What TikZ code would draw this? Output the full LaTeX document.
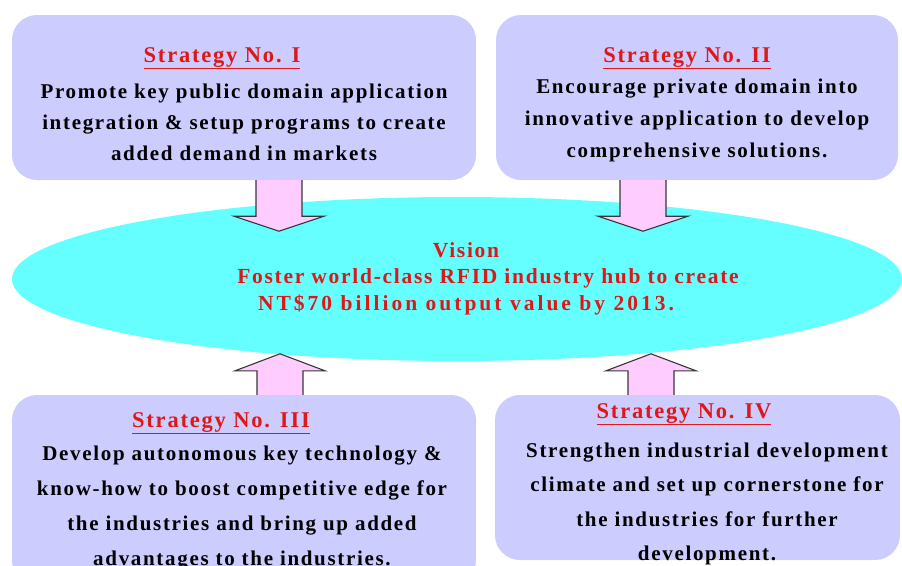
\documentclass[tikz,border=0pt]{standalone}
\usepackage{fontspec}
\setmainfont{Liberation Serif}
\newfontfamily\fontlarga{Liberation Serif}[LetterSpace=8]
\usetikzlibrary{shapes.geometric}
\definecolor{lavanda}{RGB}{204,204,255}
\definecolor{ciano}{RGB}{102,255,255}
\definecolor{rosa}{RGB}{255,204,255}
\definecolor{rosso}{RGB}{222,24,24}
\definecolor{bordo}{RGB}{55,55,55}

\begin{document}
\begin{tikzpicture}[x=1pt,y=-1pt,
  riquadro/.style={rectangle,rounded corners=25pt,fill=lavanda,inner sep=0pt},
  titolo/.style={anchor=base,text=rosso,font=\fontlarga\bfseries\fontsize{22.5}{26}\selectfont},
  testo/.style={align=center,inner sep=0pt,font=\fontlarga\bfseries\fontsize{21}{#1}\selectfont},
  freccia/.style={fill=rosa,draw=bordo,line width=1.1pt,line join=miter}]

\def\frecciagiu{-- ++(0,36) -- ++(-22,0) -- ++(45,15) -- ++(45,-15) -- ++(-22,0) -- ++(0,-36)}
\def\frecciasu{-- ++(0,-24) -- ++(-22,0) -- ++(45,-17) -- ++(45,17) -- ++(-22,0) -- ++(0,24)}

\useasboundingbox (0,0) rectangle (902,565);
\clip (0,0) rectangle (902,565);

%visione
\node[ellipse,fill=ciano,inner sep=0pt,minimum width=890pt,minimum height=164pt] (vis) at (457,279) {};
\node[testo=26.5,text=rosso,font=\fontlarga\bfseries\fontsize{21.5}{26.5}\selectfont] (vtesto) at (466,278.5)
  {Vision\\\hspace*{44pt}Foster world-class RFID industry hub to create\\
   \addfontfeatures{LetterSpace=14}NT\$70 billion output value by 2013.};

%strategie
\node[riquadro,minimum width=464pt,minimum height=165pt] (s1) at (244,97.5) {};
\node[riquadro,minimum width=402pt,minimum height=165pt] (s2) at (697,97.5) {};
\node[riquadro,minimum width=464pt,minimum height=190pt] (s3) at (244,490) {};
\node[riquadro,minimum width=405pt,minimum height=165pt] (s4) at (697.5,477.5) {};

%frecce
\draw[freccia] ([xshift=12pt]s1.south) \frecciagiu;
\draw[freccia] ([xshift=-77pt]s2.south) \frecciagiu;
\draw[freccia] ([xshift=13pt]s3.north) \frecciasu;
\draw[freccia] ([xshift=-69.5pt]s4.north) \frecciasu;

%testi
\node[titolo] (t1) at (222,62) {\underline{Strategy No. I}};
\node[testo=31] (d1) at (244,122) {Promote key public domain application\\integration \& setup programs to create\\added demand in markets};

\node[titolo] (t2) at (687,62) {\underline{Strategy No. II}};
\node[testo=32] (d2) at (697,120) {Encourage private domain into\\innovative application to develop\\comprehensive solutions.};

\node[titolo] (t3) at (221,427) {\underline{Strategy No. III}};
\node[testo=35] (d3) at (242,508) {Develop autonomous key technology \&\\know-how to boost competitive edge for\\the industries and bring up added\\advantages to the industries.};

\node[titolo] (t4) at (684,418) {\underline{Strategy No. IV}};
\node[testo=34.5] (d4) at (707,504) {Strengthen industrial development\\climate and set up cornerstone for\\the industries for further\\development.};

\end{tikzpicture}
\end{document}
